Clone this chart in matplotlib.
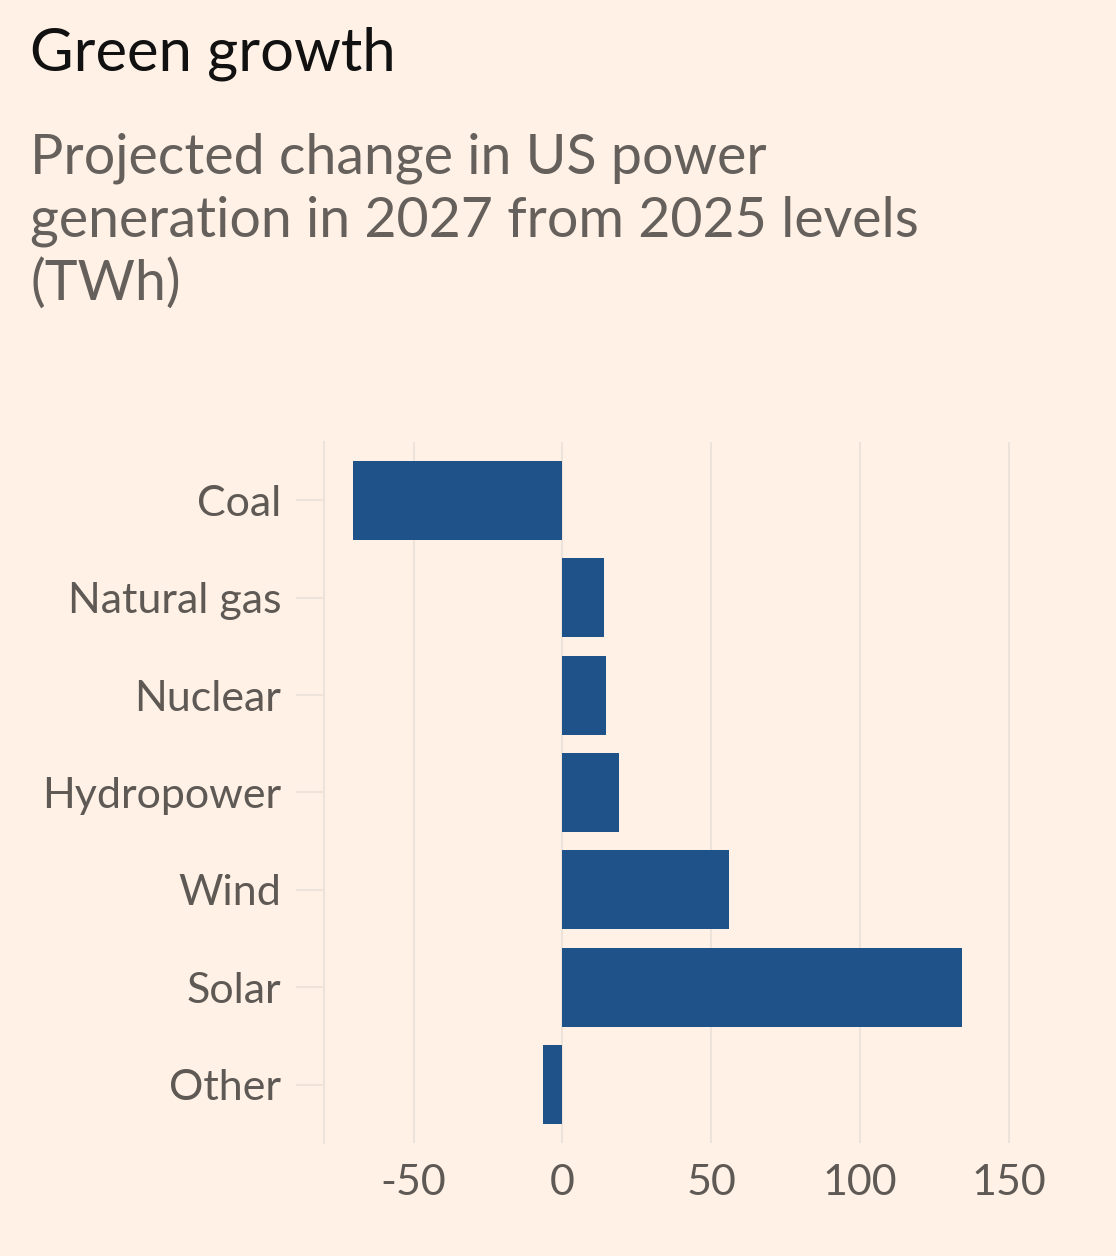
import matplotlib
matplotlib.use('Agg')
import matplotlib.pyplot as plt

# data (TWh change, 2025 -> 2027)
sources = ['Coal', 'Natural gas', 'Nuclear', 'Hydropower', 'Wind', 'Solar', 'Other']
change = [-70.3, 13.9, 14.6, 19.0, 55.9, 134.3, -6.4]
x_ticks = [-50, 0, 50, 100, 150]

bg = '#fff1e5'
bar_col = '#1f5289'
grid_col = '#ede3da'
label_col = '#5e5955'

plt.rcParams['font.family'] = ['Lato', 'DejaVu Sans']

fig = plt.figure(figsize=(11.16, 12.56), dpi=100, facecolor=bg)
ax = fig.add_axes([0.2906, 0.0900, 0.6162, 0.5581], facecolor=bg)

pos = list(range(len(sources)))
ax.barh(pos, change, height=0.81, color=bar_col, zorder=3)

ax.set_ylim(len(sources) - 0.4, -0.6)
ax.set_xlim(-80, 151)
ax.set_yticks(pos)
ax.set_yticklabels(sources)
ax.set_xticks(x_ticks)
ax.set_xticklabels([str(v) for v in x_ticks])

ax.grid(axis='x', color=grid_col, linewidth=1.5, zorder=0)
for s in ['top', 'right', 'bottom']:
    ax.spines[s].set_visible(False)
ax.spines['left'].set_color(grid_col)
ax.spines['left'].set_linewidth(1.5)

ax.tick_params(axis='y', length=20, width=1.5, color=grid_col, pad=11,
               labelsize=31, labelcolor=label_col)
ax.tick_params(axis='x', length=0, pad=15, labelsize=31, labelcolor=label_col)

fig.text(0.027, 0.944, 'Green growth', fontsize=43, color='#111111', va='baseline')
fig.text(0.027, 0.761, 'Projected change in US power\ngeneration in 2027 from 2025 levels\n(TWh)',
         fontsize=40, color='#66605c', va='baseline', linespacing=1.27)

plt.savefig('out.png', dpi=100, facecolor=bg)
plt.close()
